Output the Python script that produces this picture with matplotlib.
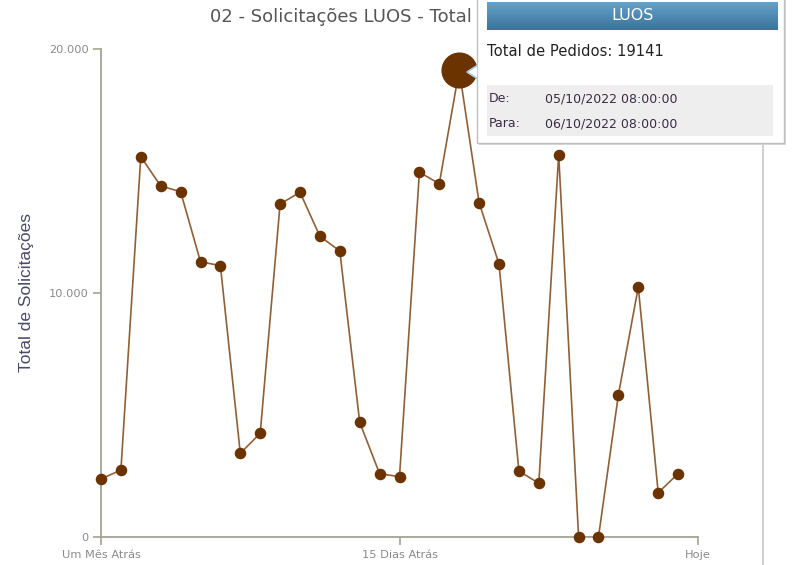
import numpy as np
import matplotlib
matplotlib.use("Agg")
import matplotlib.pyplot as plt
from matplotlib.patches import Rectangle, Polygon

# ---------------------------------------------------------------------------
# data
days = list(range(30))
pedidos = [2377, 2746, 15586, 14385, 14152, 11283, 11119, 3430, 4250, 13648,
           14127, 12324, 11721, 4701, 2594, 2471, 14947, 14480, 19141, 13701,
           11189, 2705, 2201, 15668, 0, 0, 5832, 10246, 1816, 2594]
x_ticks = [0, 15, 30]
x_labels = ["Um Mês Atrás", "15 Dias Atrás", "Hoje"]
y_ticks = [0, 10000, 20000]
y_labels = ["0", "10.000", "20.000"]
hover_idx = 18
tip_title = "LUOS"
tip_total = "Total de Pedidos: 19141"
tip_de = "05/10/2022 08:00:00"
tip_para = "06/10/2022 08:00:00"

# ---------------------------------------------------------------------------
W, H = 792, 565
fig = plt.figure(figsize=(W / 100, H / 100), dpi=100)
fig.patch.set_facecolor("white")


def fx(px):
    return px / W


def fy(py):
    return 1 - py / H


axis_col = "#a3a394"
brown = "#6b3300"

ax = fig.add_axes([fx(101), fy(537), fx(698) - fx(101), fy(49) - fy(537)])
ax.plot(days, pedidos, color="#8f6038", linewidth=1.2, zorder=2)
ax.plot(days, pedidos, linestyle="none", marker="o", markersize=7.3,
        color=brown, zorder=3, clip_on=False)
ax.plot(days[hover_idx], pedidos[hover_idx], marker="o", markersize=25,
        color=brown, zorder=4, clip_on=False)

ax.set_xlim(0, 30)
ax.set_ylim(0, 20000)
ax.set_xticks(x_ticks)
ax.set_xticklabels(x_labels)
ax.set_yticks(y_ticks)
ax.set_yticklabels(y_labels)
for s in ["top", "right"]:
    ax.spines[s].set_visible(False)
for s in ["left", "bottom"]:
    ax.spines[s].set_color(axis_col)
    ax.spines[s].set_linewidth(1.3)
ax.tick_params(colors=axis_col, length=6, width=1.2, labelsize=8.2,
               labelcolor="#8a8a8a", pad=3)
for lbl in ax.get_xticklabels() + ax.get_yticklabels():
    lbl.set_family("DejaVu Sans")

fig.text(fx(27), fy(293), "Total de Solicitações", rotation=90, ha="center",
         va="center", fontsize=12.5, color="#4a4a68", family="Liberation Sans")
fig.text(fx(210), fy(17), "02 - Solicitações LUOS - Total", ha="left",
         va="center", fontsize=13, color="#555555", family="DejaVu Sans")

# page border line at right
fig.add_artist(Rectangle((fx(762), 0), fx(2), fy(143), transform=fig.transFigure,
                         facecolor="#cfcfcf", edgecolor="none", zorder=1))

# ---------------------------------------------------------------------------
# tooltip
fig.add_artist(Rectangle((fx(479), fy(145)), fx(307), fy(-2) - fy(145),
                         transform=fig.transFigure, facecolor="#d8d8d8",
                         edgecolor="none", zorder=9))
fig.add_artist(Rectangle((fx(477), fy(143)), fx(307), fy(-2) - fy(143),
                         transform=fig.transFigure, facecolor="white",
                         edgecolor="#bfbfbf", linewidth=1, zorder=10))
# notch arrow into hovered point
fig.add_artist(Polygon([(fx(478), fy(65)), (fx(467), fy(72)), (fx(478), fy(79))],
                       closed=True, transform=fig.transFigure, facecolor="white",
                       edgecolor="#a8cce4", linewidth=1.2, zorder=11))
fig.add_artist(Rectangle((fx(477.5), fy(80)), fx(2), fy(64) - fy(80),
                         transform=fig.transFigure, facecolor="white",
                         edgecolor="none", zorder=12))

hdr = fig.add_axes([fx(487), fy(30), fx(778) - fx(487), fy(2) - fy(30)], zorder=13)
grad = np.linspace(0, 1, 50).reshape(-1, 1)
cmap = matplotlib.colors.LinearSegmentedColormap.from_list("g", ["#62a2cb", "#3d7299"])
hdr.imshow(grad, aspect="auto", cmap=cmap, extent=[0, 1, 0, 1], origin="upper")
hdr.set_axis_off()
hdr.text(0.5, 0.5, tip_title, ha="center", va="center", color="white",
         fontsize=11.5, family="DejaVu Sans", transform=hdr.transAxes)

fig.text(fx(487), fy(52), tip_total, ha="left", va="center", fontsize=10.6,
         color="#222222", family="DejaVu Sans", zorder=14)
fig.add_artist(Rectangle((fx(487), fy(136)), fx(773) - fx(487), fy(85) - fy(136),
                         transform=fig.transFigure, facecolor="#eeeeee",
                         edgecolor="none", zorder=13))
for py, lab, val in [(99, "De:", tip_de), (124, "Para:", tip_para)]:
    fig.text(fx(489), fy(py), lab, ha="left", va="center", fontsize=9,
             color="#3a2a48", family="DejaVu Sans", zorder=14)
    fig.text(fx(545), fy(py), val, ha="left", va="center", fontsize=9,
             color="#3a2a48", family="DejaVu Sans", zorder=14)

fig.savefig("out.png", dpi=100)
